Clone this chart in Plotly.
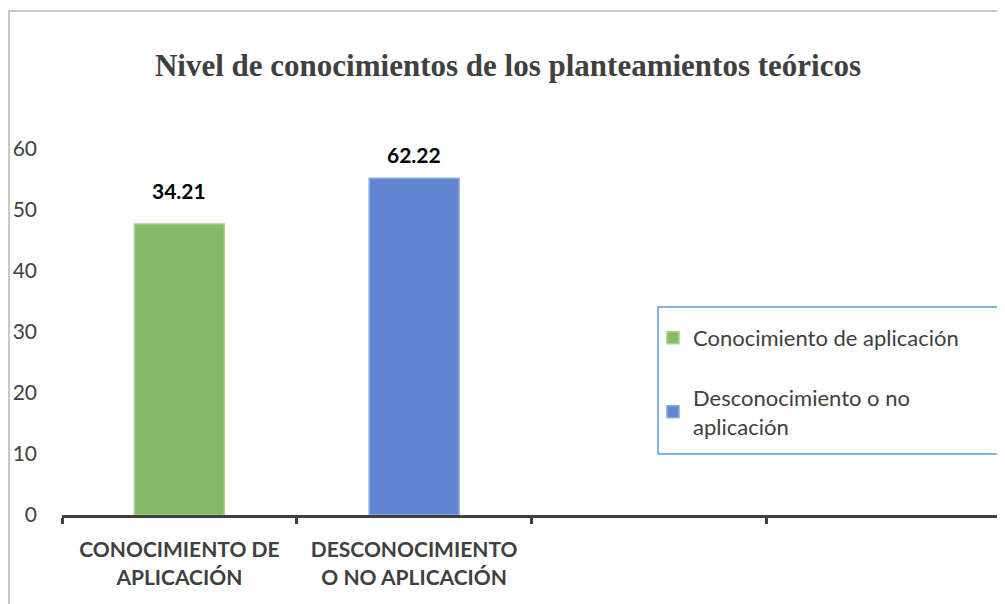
import plotly.graph_objects as go

# ---- data ----
categories = ["CONOCIMIENTO DE<br>APLICACIÓN", "DESCONOCIMIENTO<br>O NO APLICACIÓN"]
n_slots = 4  # category slots on the axis (last two are empty)
series_names = ["Conocimiento de aplicación", "Desconocimiento o no<br>aplicación"]
bar_heights = [47.7, 55.2]
bar_labels = ["34.21", "62.22"]
y_ticks = [0, 10, 20, 30, 40, 50, 60]

# ---- layout geometry (page body has an 8px margin) ----
OFF = 8
W, H = 1005 - OFF, 604 - OFF
PLOT_L, PLOT_R, PLOT_T, PLOT_B = 62, 1001, 149, 515  # in screen px
ML, MR = PLOT_L - OFF, 1005 - PLOT_R
MT, MB = PLOT_T - OFF, 604 - PLOT_B
PW, PH = PLOT_R - PLOT_L, PLOT_B - PLOT_T

def px_x(x):
    return (x - PLOT_L) / PW

def px_y(y):
    return (PLOT_B - y) / PH

colors = ["#86BB66", "#5F86CE"]
edge_colors = ["#A9D18E", "#8EAADB"]
label_shift = [34, 24]
FONT = "Lato, 'Open Sans', sans-serif"
cat_pos = list(range(len(categories)))
boundaries = [k - 0.5 for k in range(n_slots + 1)]

fig = go.Figure()
for i in range(2):
    fig.add_trace(go.Bar(
        x=[cat_pos[i]], y=[bar_heights[i]], name=series_names[i],
        marker=dict(color=colors[i], line=dict(color=edge_colors[i], width=1.5)),
        width=0.383, legendgroup=f"g{i}", hoverinfo="skip",
    ))
    fig.add_annotation(
        x=cat_pos[i], y=bar_heights[i], text=f"<b>{bar_labels[i]}</b>",
        showarrow=False, yanchor="middle", yshift=label_shift[i],
        font=dict(family=FONT, size=21, color="#000000"),
    )

fig.update_layout(
    width=W, height=H,
    margin=dict(l=ML, r=MR, t=MT, b=MB),
    paper_bgcolor="white", plot_bgcolor="white",
    barmode="overlay",
    title=dict(
        text="<b>Nivel de conocimientos de los planteamientos teóricos</b>",
        x=px_x(508), xref="paper", xanchor="center", y=1 - (65 - OFF) / H, yanchor="middle",
        font=dict(family="'Liberation Serif', 'Times New Roman', serif", size=31, color="#404040"),
    ),
    showlegend=True,
    legend=dict(
        x=px_x(653), y=px_y(317), xanchor="left", yanchor="top",
        bgcolor="rgba(0,0,0,0)", borderwidth=0,
        font=dict(family=FONT, size=22, color="#404040"),
        tracegroupgap=28, traceorder="grouped", itemwidth=30,
    ),
    xaxis=dict(
        range=[-0.5, n_slots - 0.5], showline=True, linecolor="#404040", linewidth=3,
        tickmode="array", tickvals=cat_pos, ticktext=categories, ticks="",
        minor=dict(tickmode="array", tickvals=boundaries, ticks="outside",
                   ticklen=6, tickwidth=3, tickcolor="#404040", showgrid=False),
        showgrid=False, zeroline=False, fixedrange=True, ticklabelstandoff=14,
        tickfont=dict(family=FONT, size=21, color="#404040", weight="bold"),
    ),
    yaxis=dict(
        range=[0, 60], tickvals=y_ticks, showgrid=False, zeroline=False, showline=False,
        ticks="", ticklabelstandoff=24,
        tickfont=dict(family=FONT, size=21, color="#404040"),
        fixedrange=True,
    ),
    shapes=[
        # legend border
        dict(type="rect", xref="paper", yref="paper",
             x0=px_x(658), x1=px_x(999), y0=px_y(454), y1=px_y(307),
             line=dict(color="#5B9BD5", width=1.5), fillcolor="rgba(0,0,0,0)"),
        # chart frame
        dict(type="rect", xref="paper", yref="paper",
             x0=px_x(9), x1=px_x(1015), y0=px_y(615), y1=px_y(11),
             line=dict(color="#C8C8C8", width=2), fillcolor="rgba(0,0,0,0)", layer="below"),
    ],
)

fig.write_html("out.html")
